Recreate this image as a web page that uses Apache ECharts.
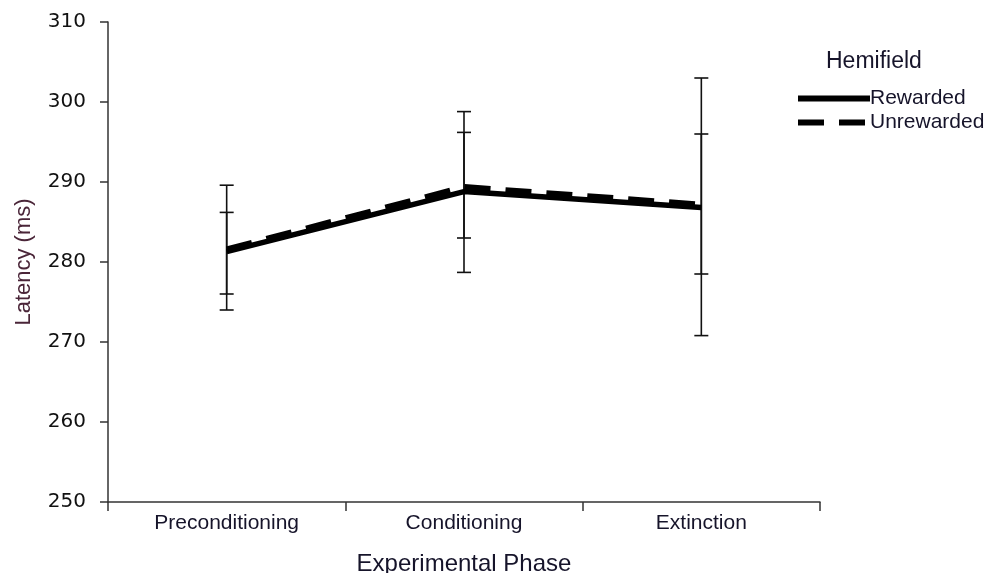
<!DOCTYPE html>
<html>
<head>
<meta charset="utf-8">
<script src="https://cdn.jsdelivr.net/npm/echarts@6/dist/echarts.min.js"></script>
<style>
  html, body { margin: 0; padding: 0; background: #fff; }
  #chart { width: 996px; height: 573px; }
</style>
</head>
<body>
<div id="chart"></div>
<script>
// Values
const categories = ['Preconditioning', 'Conditioning', 'Extinction'];
const rewarded = [281.3, 288.8, 286.8];
const unrewarded = [281.6, 289.4, 287.2];
// error bar ends (low / high) per phase
const rewardedLow = [274.0, 278.7, 270.8];
const rewardedHigh = [289.6, 298.8, 303.0];
const unrewardedLow = [276.0, 283.0, 278.5];
const unrewardedHigh = [286.2, 296.2, 296.0];
const yMin = 250;
const yMax = 310;
const yStep = 10;

const TEXT = '#16142a';

// one custom series draws the whiskers with caps
function errorBars(name, low, high) {
    return {
        name: name + ' error',
        type: 'custom',
        z: 3,
        silent: true,
        data: low.map((v, i) => [i, v, high[i]]),
        encode: { x: 0, y: [1, 2] },
        renderItem: function (params, api) {
            const lo = api.coord([api.value(0), api.value(1)]);
            const hi = api.coord([api.value(0), api.value(2)]);
            const half = 7;
            const style = { stroke: '#111', lineWidth: 1.6 };
            return {
                type: 'group',
                children: [
                    { type: 'line', shape: { x1: lo[0], y1: lo[1], x2: hi[0], y2: hi[1] }, style: style },
                    { type: 'line', shape: { x1: lo[0] - half, y1: lo[1], x2: lo[0] + half, y2: lo[1] }, style: style },
                    { type: 'line', shape: { x1: hi[0] - half, y1: hi[1], x2: hi[0] + half, y2: hi[1] }, style: style }
                ]
            };
        }
    };
}

const chart = echarts.init(document.getElementById('chart'), null, { renderer: 'canvas' });

const option = {
    backgroundColor: '#fff',
    animation: false,
    title: {
        text: 'Hemifield',
        left: 821,
        top: 45,
        textStyle: { fontFamily: 'Liberation Sans', fontSize: 23, fontWeight: 'normal', color: TEXT }
    },
    legend: {
        data: ['Rewarded', 'Unrewarded'],
        orient: 'vertical',
        left: 790,
        top: 83,
        itemWidth: 72,
        itemHeight: 14,
        itemGap: 3,
        itemStyle: { opacity: 0 },
        lineStyle: { width: 6 },
        textStyle: { fontFamily: 'Liberation Sans', fontSize: 21, color: TEXT, padding: [0, 0, 0, -5] }
    },
    grid: { left: 108, right: 176, top: 22, bottom: 71, containLabel: false, outerBoundsMode: 'none' },
    xAxis: {
        type: 'category',
        data: categories,
        boundaryGap: true,
        name: 'Experimental Phase',
        nameLocation: 'middle',
        nameGap: 50,
        nameTextStyle: { fontFamily: 'Liberation Sans', fontSize: 24, color: TEXT },
        axisLine: { lineStyle: { color: '#333', width: 1.5 } },
        axisTick: { show: true, length: 9, lineStyle: { color: '#333', width: 1.5 } },
        axisLabel: { margin: 11, fontFamily: 'Liberation Sans', fontSize: 21, color: TEXT },
        splitLine: { show: false }
    },
    yAxis: {
        type: 'value',
        min: yMin,
        max: yMax,
        interval: yStep,
        name: 'Latency (ms)',
        nameLocation: 'middle',
        nameGap: 73,
        nameTextStyle: { fontFamily: 'Liberation Sans', fontSize: 22, color: '#4a2538' },
        axisLine: { show: true, lineStyle: { color: '#333', width: 1.5 } },
        axisTick: { show: true, length: 8, lineStyle: { color: '#333', width: 1.5 } },
        axisLabel: { margin: 22, fontFamily: 'DejaVu Sans', fontSize: 20, color: '#111' },
        splitLine: { show: false }
    },
    series: [
        {
            name: 'Rewarded',
            type: 'line',
            data: rewarded,
            symbol: 'none',
            z: 4,
            lineStyle: { color: '#000', width: 5.5, type: 'solid' },
            itemStyle: { color: '#000' }
        },
        {
            name: 'Unrewarded',
            type: 'line',
            data: unrewarded,
            symbol: 'none',
            z: 5,
            lineStyle: { color: '#000', width: 5.5, type: [26, 15] },
            itemStyle: { color: '#000' }
        },
        errorBars('Rewarded', rewardedLow, rewardedHigh),
        errorBars('Unrewarded', unrewardedLow, unrewardedHigh)
    ]
};

chart.setOption(option);
</script>
</body>
</html>
